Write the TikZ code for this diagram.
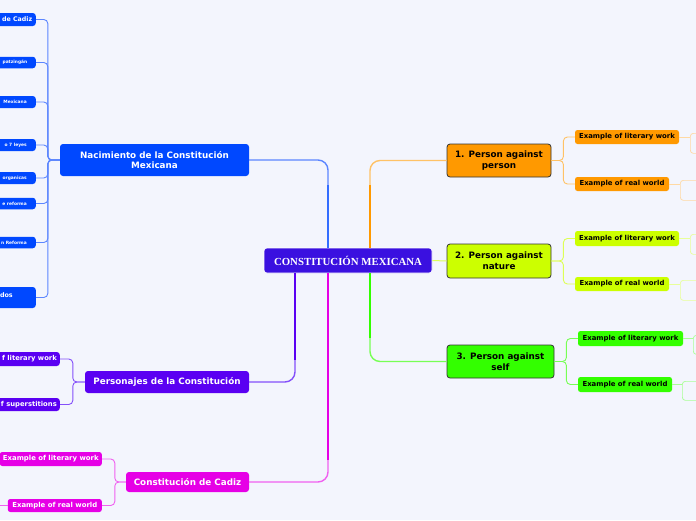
\documentclass[tikz,border=0pt]{standalone}
\usepackage{fontspec}
\setmainfont{DejaVu Sans}
\newfontfamily\centerfont{Liberation Serif}
\definecolor{bg}{HTML}{F3F5FD}
\definecolor{cmain}{HTML}{3A10E0}
\definecolor{cblue}{HTML}{0048FF}
\definecolor{lblue}{HTML}{5C86FF}
\definecolor{cpurp}{HTML}{5A00F2}
\definecolor{lpurp}{HTML}{8450FA}
\definecolor{cmag}{HTML}{E600E6}
\definecolor{lmag}{HTML}{F060F0}
\definecolor{corange}{HTML}{FF9900}
\definecolor{lorange}{HTML}{FFC266}
\definecolor{porange}{HTML}{FFD9A3}
\definecolor{cyel}{HTML}{CCFF00}
\definecolor{lyel}{HTML}{DDFF55}
\definecolor{pyel}{HTML}{E8FF99}
\definecolor{cgreen}{HTML}{33FF00}
\definecolor{lgreen}{HTML}{77FF55}
\definecolor{pgreen}{HTML}{A8FF95}
\tikzset{
  box/.style={rounded corners=3pt, inner sep=0pt, align=center, font=\bfseries\fontsize{8.8}{10.6}\selectfont},
  topicbox/.style={box, draw=black!80, line width=0.8pt, text=black},
  subbox/.style={rounded corners=2.5pt, inner sep=0pt, minimum height=14pt, font=\bfseries\fontsize{6.9}{8}\selectfont},
  leftbox/.style={rounded corners=3pt, inner sep=0pt, anchor=east, minimum width=60pt},
  lefttext/.style={inner sep=0pt, anchor=east, text=white},
  tinytext/.style={lefttext, font=\bfseries\fontsize{4.4}{5}\selectfont},
  outline/.style={rounded corners=3pt, line width=0.7pt, inner sep=0pt, anchor=north west, minimum width=40pt},
  conn/.style={rounded corners=10pt, line width=1.4pt},
  br/.style={rounded corners=4pt, line width=0.9pt},
}
\begin{document}
\begin{tikzpicture}[x=1pt,y=-1pt]
\useasboundingbox[fill=bg] (0,0) rectangle (696,520);

% central node
\node[box, fill=cmain, draw=white, line width=0.6pt, text=white, minimum width=168pt, minimum height=25pt, font=\centerfont\bfseries\fontsize{10.8}{12}\selectfont] (c) at (348,260.5) {CONSTITUCIÓN MEXICANA};

% left main topics
\node[box, fill=cblue, text=white, minimum width=189pt, minimum height=32pt] (nac) at (154.5,160) {Nacimiento de la Constitución\\Mexicana};
\node[box, fill=cpurp, text=white, minimum width=164pt, minimum height=22pt] (pers) at (167,382) {Personajes de la Constitución};
\node[box, fill=cmag, text=white, minimum width=123pt, minimum height=20pt] (cad) at (187.5,482) {Constitución de Cadiz};

% right topics
\node[topicbox, fill=corange, minimum width=104pt, minimum height=33pt] (t1) at (499,160.5) {1. Person against\\person};
\node[topicbox, fill=cyel, minimum width=104pt, minimum height=34pt] (t2) at (499,261) {2. Person against\\nature};
\node[topicbox, fill=cgreen, minimum width=107pt, minimum height=33pt] (t3) at (500.5,361.5) {3. Person against\\self};

% central connectors
\coordinate (cb) at (328,248);
\coordinate (co) at (370,248);
\coordinate (cg) at (370,273);
\coordinate (cp) at (295,273);
\coordinate (cm) at (328,273);
\draw[conn, draw=lblue] (cb) |- (nac.east);
\draw[conn, draw=lorange] (co) |- (t1.west);
\draw[conn, draw=lgreen] (cg) |- (t3.west);
\draw[line width=1pt, draw=lyel] (c.east) -- (t2.west);
\draw[conn, draw=lpurp] (cp) |- (pers.east);
\draw[conn, draw=lmag] (cm) |- (cad.east);
\draw[line width=2pt, cblue!80!white] (cb) -- (328,185);
\draw[line width=2pt, corange] (co) -- (370,185);
\draw[line width=2pt, cgreen] (cg) -- (370,338);
\draw[line width=2pt, cpurp] (cp) -- (295,360);
\draw[line width=2pt, cmag] (cm) -- (328,460);

% right subnodes
\node[subbox, fill=corange, minimum width=104pt] (o1) at (627,137) {Example of literary work};
\node[subbox, fill=corange, minimum width=94pt] (o2) at (622,184) {Example of real world};
\node[subbox, fill=cyel, minimum width=104pt, minimum height=15pt] (y1) at (627,238.5) {Example of literary work};
\node[subbox, fill=cyel, minimum width=94pt] (y2) at (622,284) {Example of real world};
\node[subbox, fill=cgreen, minimum width=105pt, minimum height=15pt] (g1) at (630.5,338.5) {Example of literary work};
\node[subbox, fill=cgreen, minimum width=94pt, minimum height=15pt] (g2) at (625,384.5) {Example of real world};

\draw[br, lorange] (t1.east) -- ++(12,0) |- (o1.west);
\draw[br, lorange] (t1.east) -- ++(12,0) |- (o2.west);
\draw[br, lyel] (t2.east) -- ++(12,0) |- (y1.west);
\draw[br, lyel] (t2.east) -- ++(12,0) |- (y2.west);
\draw[br, lgreen] (t3.east) -- ++(12,0) |- (g1.west);
\draw[br, lgreen] (t3.east) -- ++(12,0) |- (g2.west);

% empty outline boxes at the right edge
\node[outline, draw=porange, minimum height=20pt] (o1b) at (690,133) {};
\node[outline, draw=porange, minimum height=20pt] (o2b) at (680,180) {};
\node[outline, draw=pyel, minimum height=20pt] (y1b) at (690,234) {};
\node[outline, draw=pyel, minimum height=20pt] (y2b) at (680,280) {};
\node[outline, draw=pgreen, minimum height=19pt] (g1b) at (693,335) {};
\node[outline, draw=pgreen, minimum height=19pt] (g2b) at (682,381) {};
\draw[line width=0.8pt, porange] (o1.east) -- (o1.east -| o1b.west);
\draw[line width=0.8pt, porange] (o2.east) -- (o2.east -| o2b.west);
\draw[line width=0.8pt, pyel] (y1.east) -- (y1.east -| y1b.west);
\draw[line width=0.8pt, pyel] (y2.east) -- (y2.east -| y2b.west);
\draw[line width=0.8pt, pgreen] (g1.east) -- (g1.east -| g1b.west);
\draw[line width=0.8pt, pgreen] (g2.east) -- (g2.east -| g2b.west);

% left children of Nacimiento
\node[leftbox, fill=cblue, minimum height=13pt] (b1) at (36,19.5) {};
\node[lefttext, font=\bfseries\fontsize{6.3}{7}\selectfont] at ([xshift=-3.5pt]b1.east) {de Cadiz};
\node[leftbox, fill=cblue, minimum height=11.5pt] (b2) at (36,62.5) {};
\node[tinytext] at ([xshift=-8.5pt]b2.east) {patzingán};
\node[leftbox, fill=cblue, minimum height=12pt] (b3) at (36,102) {};
\node[tinytext] at ([xshift=-9pt]b3.east) {Mexicana};
\node[leftbox, fill=cblue, minimum height=12pt] (b4) at (36,145) {};
\node[tinytext] at ([xshift=-9pt]b4.east) {o 7 leyes};
\node[leftbox, fill=cblue, minimum height=12pt] (b5) at (36,178) {};
\node[tinytext] at ([xshift=-9pt]b5.east) {organicas};
\node[leftbox, fill=cblue, minimum height=11.5pt] (b6) at (36,203.5) {};
\node[tinytext] at ([xshift=-9pt]b6.east) {e reforma};
\node[leftbox, fill=cblue, minimum height=11.5pt] (b7) at (36,242.5) {};
\node[tinytext] at ([xshift=-9pt]b7.east) {n Reforma};
\node[leftbox, fill=cblue, minimum height=21pt] (b8) at (36,297.5) {};
\node[lefttext, font=\bfseries\fontsize{6.4}{7.5}\selectfont] at ([xshift=-23pt,yshift=2pt]b8.east) {dos};
\foreach \b in {b1,b2,b3,b4,b5,b6,b7,b8}
  \draw[br, lblue] (nac.west) -- ++(-12,0) |- (\b.east);

% children of Personajes
\node[leftbox, fill=cpurp, minimum width=80pt, minimum height=14pt] (p1) at (60,359) {};
\node[lefttext, font=\bfseries\fontsize{6.8}{8}\selectfont] at ([xshift=-3pt]p1.east) {f literary work};
\node[leftbox, fill=cpurp, minimum width=80pt, minimum height=13pt] (p2) at (60,404.5) {};
\node[lefttext, font=\bfseries\fontsize{6.8}{8}\selectfont] at ([xshift=-3pt]p2.east) {f superstitions};
\draw[br, lpurp] (pers.west) -- ++(-12,0) |- (p1.east);
\draw[br, lpurp] (pers.west) -- ++(-12,0) |- (p2.east);

% children of Cadiz
\node[subbox, fill=cmag, text=white, minimum width=102pt, anchor=east] (m1) at (102,459) {Example of literary work};
\node[subbox, fill=cmag, text=white, minimum width=94pt, minimum height=13pt, anchor=east] (m2) at (102,505.5) {Example of real world};
\draw[br, lmag] (cad.west) -- ++(-11,0) |- (m1.east);
\draw[br, lmag] (cad.west) -- ++(-11,0) |- (m2.east);
\coordinate (mend) at (-4,505.5);
\draw[line width=0.8pt, lmag] (m2.west) -- (mend);
\end{tikzpicture}
\end{document}
